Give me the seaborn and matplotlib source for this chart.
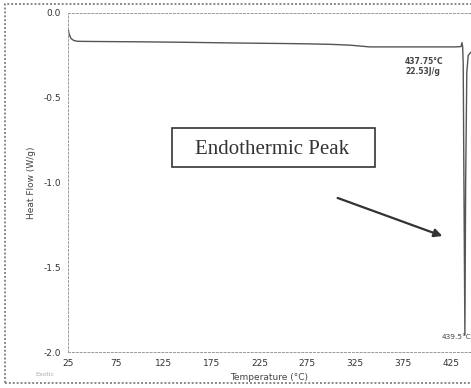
import matplotlib
matplotlib.use("Agg")
import matplotlib.pyplot as plt
import matplotlib.patches as mpatches
from matplotlib.ticker import MultipleLocator
import seaborn as sns
import pandas as pd

# Data
temperature = [25, 26, 28, 31, 35, 50, 100, 150, 200, 250, 275, 300, 320, 330, 340,
               360, 400, 430, 435.5, 436.5, 437.2, 437.75, 438.5, 439.5,
               440.3, 441.5, 443, 446]
heat_flow = [-0.09, -0.12, -0.15, -0.162, -0.167, -0.168, -0.17, -0.173, -0.177, -0.18,
             -0.182, -0.185, -0.19, -0.195, -0.2, -0.2, -0.2, -0.2, -0.198, -0.175,
             -0.2, -0.3, -1.0, -1.9, -1.0, -0.35, -0.25, -0.23]
x_ticks = [25, 75, 125, 175, 225, 275, 325, 375, 425]
y_ticks = [0.0, -0.5, -1.0, -1.5, -2.0]

df = pd.DataFrame({"Temperature": temperature, "HeatFlow": heat_flow})

sns.set_style("white")
plt.rcParams['font.family'] = ['DejaVu Sans']

W, H = 471, 388
fig = plt.figure(figsize=(W/100, H/100), dpi=100)
ax = fig.add_axes([68/W, 1-352/H, 1-68/W, (352-13)/H])

sns.lineplot(data=df, x="Temperature", y="HeatFlow", ax=ax, color="#555555",
             linewidth=1.0, estimator=None, sort=False)

px_per_deg = (451-68)/400
ax.set_xlim(25, 25 + (W-68)/px_per_deg)
ax.set_ylim(-2.0, 0.0)
ax.set_xticks(x_ticks)
ax.set_yticks(y_ticks)
ax.set_yticklabels([f"{v:.1f}" for v in y_ticks])
ax.xaxis.set_minor_locator(MultipleLocator(10))
ax.yaxis.set_minor_locator(MultipleLocator(0.125))
ax.tick_params(axis="both", which="major", labelsize=6.5, length=3, width=0.6,
               colors="#777777", labelcolor="#333333", direction="out")
ax.tick_params(axis="both", which="minor", length=1.5, width=0.5, colors="#999999",
               direction="out")
ax.tick_params(axis="x", pad=2)
ax.tick_params(axis="y", pad=2)

for side in ["left", "bottom", "top"]:
    ax.spines[side].set_visible(True)
    ax.spines[side].set_color("#999999")
    ax.spines[side].set_linestyle((0, (2, 2)))
    ax.spines[side].set_linewidth(0.7)
ax.spines["right"].set_visible(False)

ax.set_xlabel("Temperature (°C)", fontsize=6.5, color="#444444", labelpad=4)
ax.set_ylabel("Heat Flow (W/g)", fontsize=6.5, color="#444444", labelpad=5)

# Annotations
fig.text(405/W, 1-57/H, "437.75°C\n22.53J/g", fontsize=5.5, fontweight="bold",
         color="#444444", ha="left", va="top", linespacing=1.2)
fig.text(442/W, 1-337/H, "439.5°C", fontsize=5.3, color="#444444", ha="left",
         va="center")

# Outer frame
frame = mpatches.Rectangle((5/W, 1-383/H), 1.2, (383-4)/H, transform=fig.transFigure,
                           fill=False, edgecolor="#888888", linewidth=1.4,
                           linestyle=(0, (1, 1)))
fig.patches.append(frame)

# Endothermic peak box
box = mpatches.Rectangle((172/W, 1-167/H), (375-172)/W, (167-128)/H,
                         transform=fig.transFigure, facecolor="white",
                         edgecolor="#333333", linewidth=1.2, zorder=5)
fig.patches.append(box)
fig.text(272/W, 1-149/H, "Endothermic Peak", fontsize=15, family="Liberation Serif",
         color="#333333", ha="center", va="center", zorder=6)

# Arrow
ax.annotate("", xy=(25 + (445-68)/px_per_deg, -(237-13)/169.5),
            xytext=(25 + (335-68)/px_per_deg, -(197-13)/169.5),
            arrowprops=dict(arrowstyle="-|>", color="#333333", lw=1.6,
                            mutation_scale=12))

fig.text(35/W, 1-376/H, "Exotic", fontsize=4.5, color="#aaaaaa")

fig.savefig("out.png", dpi=100)
